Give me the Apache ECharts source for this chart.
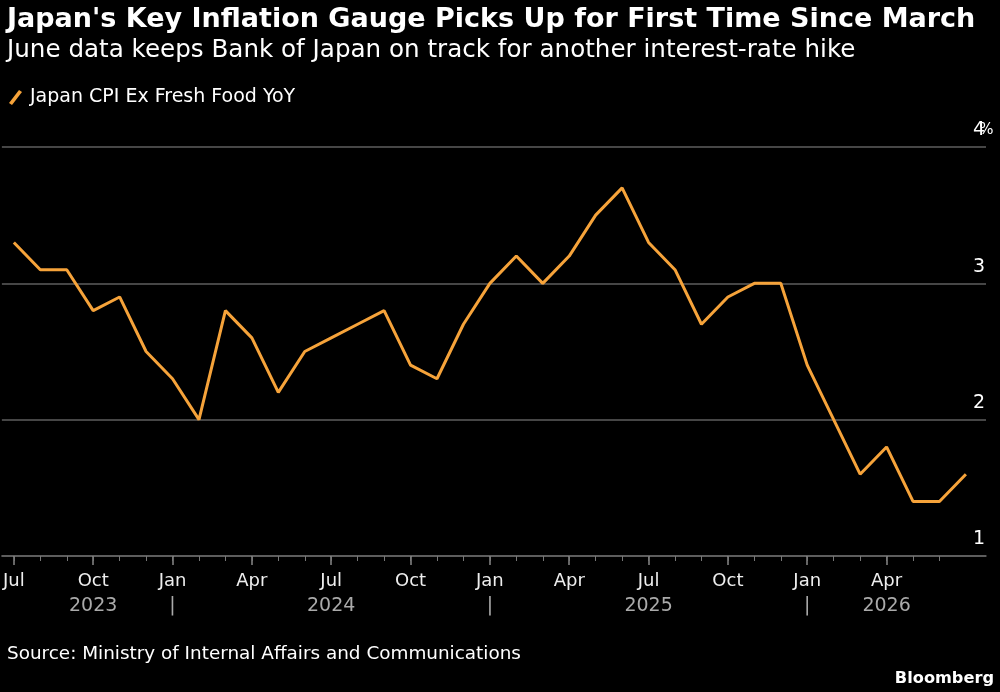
<!DOCTYPE html>
<html>
<head>
<meta charset="utf-8">
<script src="https://cdn.jsdelivr.net/npm/echarts@6/dist/echarts.min.js"></script>
<style>
	html, body { margin: 0; padding: 0; background: #000; }
	#chart { width: 1000px; height: 692px; }
</style>
</head>
<body>
<div id="chart"></div>
<script>
	// month at the tick each point sits on (Jul 2023 .. Jul 2026)
	var months = [
		"2023-07", "2023-08", "2023-09", "2023-10", "2023-11", "2023-12",
		"2024-01", "2024-02", "2024-03", "2024-04", "2024-05", "2024-06",
		"2024-07", "2024-08", "2024-09", "2024-10", "2024-11", "2024-12",
		"2025-01", "2025-02", "2025-03", "2025-04", "2025-05", "2025-06",
		"2025-07", "2025-08", "2025-09", "2025-10", "2025-11", "2025-12",
		"2026-01", "2026-02", "2026-03", "2026-04", "2026-05", "2026-06",
		"2026-07"
	];
	var cpiValues = [
		3.3, 3.1, 3.1, 2.8, 2.9, 2.5,
		2.3, 2.0, 2.8, 2.6, 2.2, 2.5,
		2.6, 2.7, 2.8, 2.4, 2.3, 2.7,
		3.0, 3.2, 3.0, 3.2, 3.5, 3.7,
		3.3, 3.1, 2.7, 2.9, 3.0, 3.0,
		2.4, 2.0, 1.6, 1.8, 1.4, 1.4,
		1.6
	];
	var monthNames = ["Jan", "Feb", "Mar", "Apr", "May", "Jun", "Jul", "Aug", "Sep", "Oct", "Nov", "Dec"];
	// second row under the month labels: year names and year separators
	var yearRow = { 3: "2023", 6: "|", 12: "2024", 18: "|", 24: "2025", 30: "|", 33: "2026" };

	var seriesData = cpiValues.map(function(v, i) {
		return [i, v];
	});
	var quarterIdx = [];
	var monthIdx = [];
	for (var i = 0; i < months.length - 1; i++) {
		monthIdx.push(i);
		if (i % 3 === 0) quarterIdx.push(i);
	}

	var font = "DejaVu Sans";
	var xMin = -0.453;
	var xMax = 36.76;

	var chart = echarts.init(document.getElementById("chart"));
	chart.setOption({
		backgroundColor: "#000",
		animation: false,
		title: [
			{
				text: "Japan's Key Inflation Gauge Picks Up for First Time Since March",
				left: 2,
				top: 1,
				textStyle: { color: "#fff", fontFamily: font, fontWeight: "bold", fontSize: 27 }
			},
			{
				text: "June data keeps Bank of Japan on track for another interest-rate hike",
				left: 2,
				top: 33,
				textStyle: { color: "#fff", fontFamily: font, fontWeight: "normal", fontSize: 24.6 }
			},
			{
				text: "Source: Ministry of Internal Affairs and Communications",
				left: 2,
				top: 640,
				textStyle: { color: "#fff", fontFamily: font, fontWeight: "normal", fontSize: 18.4 }
			},
			{
				text: "Bloomberg",
				right: 1,
				top: 666,
				textStyle: { color: "#fff", fontFamily: font, fontWeight: "bold", fontSize: 16.2 }
			}
		],
		legend: {
			left: 4,
			top: 83,
			itemWidth: 13,
			itemHeight: 15,
			itemGap: 14,
			icon: "path://M0,13 L10,0 L13,2 L3,15 Z",
			textStyle: { color: "#fff", fontFamily: font, fontSize: 19, padding: [0, 0, 0, 3] },
			data: ["Japan CPI Ex Fresh Food YoY"]
		},
		grid: {
			left: 0,
			right: 14,
			top: 147,
			bottom: 136
		},
		xAxis: [
			{
				type: "value",
				position: "bottom",
				min: xMin,
				max: xMax,
				axisLine: { show: true, lineStyle: { color: "#666", width: 1.5 } },
				axisTick: {
					show: true,
					customValues: quarterIdx,
					length: 9,
					lineStyle: { color: "#888", width: 1.5 }
				},
				splitLine: { show: false },
				axisLabel: {
					customValues: quarterIdx,
					margin: 13,
					formatter: function(val) {
						var idx = Math.round(val);
						var m = parseInt(months[idx].split("-")[1], 10);
						var lbl = "{m|" + monthNames[m - 1] + "}";
						if (yearRow[idx]) lbl += "\n{y|" + yearRow[idx] + "}";
						return lbl;
					},
					rich: {
						m: { color: "#eee", fontFamily: font, fontSize: 18, lineHeight: 25 },
						y: { color: "#aaa", fontFamily: font, fontSize: 19, lineHeight: 25 }
					}
				}
			},
			{
				type: "value",
				position: "bottom",
				min: xMin,
				max: xMax,
				axisLine: { show: false },
				axisTick: {
					show: true,
					customValues: monthIdx,
					length: 5,
					lineStyle: { color: "#777", width: 1 }
				},
				axisLabel: { show: false },
				splitLine: { show: false }
			}
		],
		yAxis: {
			type: "value",
			position: "right",
			min: 1,
			max: 4,
			interval: 1,
			axisLine: { show: false },
			axisTick: { show: false },
			splitLine: { show: true, lineStyle: { color: "#5e5e5e", width: 1.5 } },
			axisLabel: {
				inside: true,
				verticalAlign: "bottom",
				margin: 1,
				padding: [0, 0, 7, 0],
				formatter: function(val) {
					return val === 4 ? "{n|4}{p|\u2009%}" : "{n|" + val + "}";
				},
				rich: {
					n: { color: "#fff", fontFamily: font, fontSize: 19 },
					// zero-width token so the % hangs past the number column
					p: { color: "#fff", fontFamily: font, fontSize: 15, width: 0, align: "left" }
				}
			}
		},
		series: [
			{
				name: "Japan CPI Ex Fresh Food YoY",
				type: "line",
				data: seriesData,
				symbol: "none",
				color: "#f6a33a",
				lineStyle: { color: "#f6a33a", width: 3 }
			}
		]
	});
</script>
</body>
</html>
